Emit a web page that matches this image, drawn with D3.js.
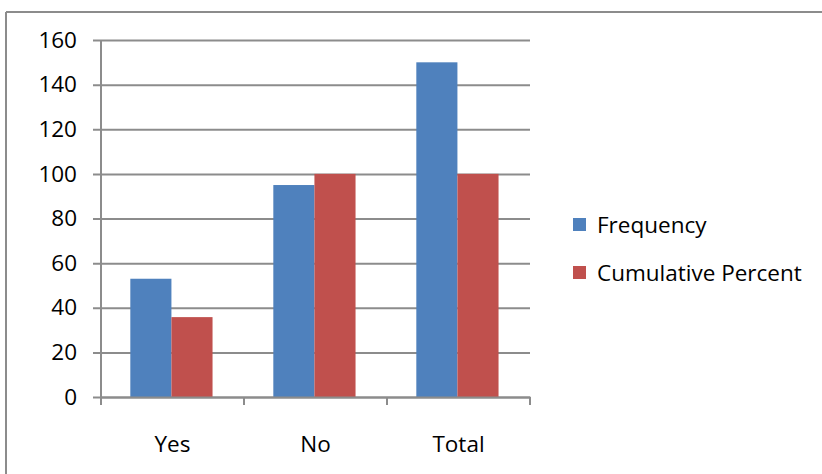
<!DOCTYPE html>
<html><head><meta charset="utf-8">
<script src="https://cdn.jsdelivr.net/npm/d3@7"></script>
<style>body{margin:0;background:#fff}svg{display:block}text{font-family:"Open Sans",Lato,sans-serif;fill:#000}</style>
</head><body><svg id="c" width="822" height="474"></svg>
<script>
const categories = ["Yes", "No", "Total"];
const seriesNames = ["Frequency", "Cumulative Percent"];
const frequency = [53, 95, 150];
const cumulativePercent = [35.8, 100, 100];
const yTicks = [0, 20, 40, 60, 80, 100, 120, 140, 160];
const colors = ["#4F81BD", "#C0504D"];

(function () {
const svg = d3.select("#c");
const W = 822, H = 474;
const FONT = "'Open Sans', Lato, sans-serif", FS = 22.5;
svg.append("line").attr("x1", 6).attr("x2", W).attr("y1", 12).attr("y2", 12).attr("stroke", "#8c8c8c").attr("stroke-width", 2);
svg.append("line").attr("x1", 6).attr("x2", 6).attr("y1", 12).attr("y2", H).attr("stroke", "#8c8c8c").attr("stroke-width", 2);

const mLeft = 101, mRight = 530, mTop = 40, mBottom = 397;
const y = d3.scaleLinear().domain([0, 160]).range([mBottom, mTop]);
const x0 = d3.scaleBand().domain(categories).range([mLeft, mRight]).padding(0);
const bw = x0.bandwidth();
const x1 = d3.scaleBand().domain(seriesNames).range([bw * 0.205, bw * 0.78]).padding(0);

const yAxis = d3.axisLeft(y).tickValues(yTicks).tickSize(-(mRight - mLeft)).tickPadding(24);
const gy = svg.append("g").attr("transform", `translate(${mLeft},0)`).call(yAxis);
gy.select(".domain").remove();
gy.selectAll(".tick line").attr("stroke", "#8c8c8c").attr("stroke-width", 2).attr("x1", -8);
gy.selectAll(".tick text").attr("font-size", FS).attr("font-family", FONT).attr("fill", "#000");

const data = categories.map((c, i) => ({cat: c, vals: [frequency[i], cumulativePercent[i]]}));
const g = svg.append("g");
data.forEach(d => {
  d.vals.forEach((v, j) => {
    g.append("rect")
      .attr("x", x0(d.cat) + x1(seriesNames[j]))
      .attr("y", y(v))
      .attr("width", x1.bandwidth())
      .attr("height", y(0) - y(v))
      .attr("fill", colors[j]);
  });
});

svg.append("line").attr("x1", mLeft).attr("x2", mLeft).attr("y1", mTop).attr("y2", mBottom).attr("stroke", "#8c8c8c").attr("stroke-width", 2);
const xAxis = d3.axisBottom(x0).tickSize(0).tickPadding(39);
const gx = svg.append("g").attr("transform", `translate(0,${mBottom})`).call(xAxis);
gx.select(".domain").attr("stroke", "#8c8c8c").attr("stroke-width", 2);
gx.selectAll(".tick text").attr("font-size", FS).attr("font-family", FONT).attr("fill", "#000");
const bounds = categories.map(c => x0(c)).concat([x0(categories[categories.length - 1]) + bw]);
svg.append("g").selectAll("line").data(bounds).join("line")
  .attr("x1", d => d).attr("x2", d => d).attr("y1", mBottom).attr("y2", mBottom + 8)
  .attr("stroke", "#8c8c8c").attr("stroke-width", 2);

const lg = svg.append("g");
seriesNames.forEach((s, i) => {
  const yy = 218 + i * 48;
  lg.append("rect").attr("x", 573).attr("y", yy).attr("width", 13).attr("height", 13).attr("fill", colors[i]);
  lg.append("text").attr("x", 597).attr("y", yy + 15).attr("font-size", FS).attr("font-family", FONT).text(s);
});
})();
</script></body></html>
